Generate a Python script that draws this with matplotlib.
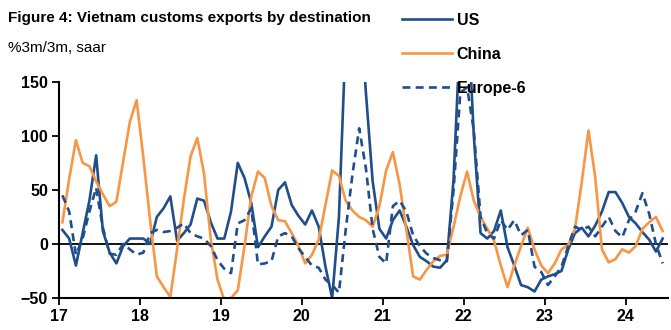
import matplotlib
matplotlib.use("Agg")
import matplotlib.pyplot as plt
import numpy as np

plt.rcParams['font.family'] = ['Liberation Sans', 'DejaVu Sans']

# monthly data, Jan 2017 - Jun 2024 (%3m/3m saar)
us = [13, 5, -20, 10, 40, 82, 12, -8, -18, -2, 5, 5,
      5, 0, 25, 33, 44, 3, 10, 18, 42, 40, 20, 5,
      5, 30, 75, 61, 38, -3, 7, 16, 50, 57, 36, 26,
      18, 31, 16, -21, -50, 25, 190, 260, 230, 140, 58, 14,
      5, 22, 31, 16, -1, -12, -16, -21, -22, -15, 60, 200,
      230, 100, 10, 5, 12, 31, -3, -20, -38, -40, -44, -33,
      -30, -28, -25, -5, 10, 15, 7, 17, 30, 48, 48, 38,
      25, 19, 11, 4, -7, 5]
china = [20, 60, 96, 75, 72, 58, 46, 35, 39, 76, 113, 133,
         80, 22, -30, -40, -49, -5, 41, 81, 98, 65, 4, -33,
         -52, -50, -43, -2, 44, 67, 61, 35, 22, 21, 10, -2,
         -18, -10, 4, 36, 68, 63, 40, 31, 25, 22, 16, 35,
         68, 85, 55, 13, -30, -33, -24, -16, -11, -10, 16, 44,
         67, 40, 25, 14, 3, -20, -40, -20, -2, 15, -5, -20,
         -27, -18, -5, -1, 14, 57, 105, 62, -5, -17, -14, -5,
         -8, -2, 14, 20, 25, 12]
europe6 = [45, 30, -10, 5, 30, 52, 15, -9, -10, 0, -5, -10,
           -8, 10, 13, 11, 12, 15, 19, 10, 7, 5, -2, -15,
           -23, -27, 19, 22, 33, -19, -18, -16, 7, 10, 7, -4,
           -12, -20, -22, -33, -38, -45, 13, 64, 107, 70, 14, -12,
           -18, 35, 40, 30, 8, -2, -9, -13, -15, -16, 50, 140,
           145, 105, 25, 10, 5, 22, 13, 22, 8, 13, -21, -26,
           -38, -30, -21, -2, 16, 13, 16, 7, 16, 25, 12, 6,
           22, 30, 47, 28, 0, -18]
years = [2017, 2018, 2019, 2020, 2021, 2022, 2023, 2024]
year_labels = ['17', '18', '19', '20', '21', '22', '23', '24']

t = 2017 + (np.arange(len(us)) + 0.5) / 12

navy = '#1f4e8a'
orange = '#f79646'

fig = plt.figure(figsize=(6.71, 3.30), dpi=100)
ax = fig.add_axes([0.088, 0.097, 0.907, 0.655])

l1, = ax.plot(t, us, color=navy, lw=1.9, label='US')
l2, = ax.plot(t, china, color=orange, lw=1.9, label='China')
l3, = ax.plot(t, europe6, color=navy, lw=1.9, ls=(0, (3, 2)), label='Europe-6')
ax.axhline(0, color='black', lw=1.3, zorder=0)

ax.set_xlim(2017, 2024.52)
ax.set_ylim(-50, 150)
ax.set_yticks([-50, 0, 50, 100, 150])
ax.set_xticks(years)
ax.set_xticklabels(year_labels)
for lab in ax.get_xticklabels() + ax.get_yticklabels():
    lab.set_fontweight('bold')
    lab.set_fontsize(11.5)
ax.tick_params(direction='out', length=5, width=1.3, pad=3)
ax.spines['top'].set_visible(False)
ax.spines['right'].set_visible(False)
ax.spines['left'].set_linewidth(1.5)
ax.spines['bottom'].set_linewidth(1.5)

fig.text(0.012, 0.945, 'Figure 4: Vietnam customs exports by destination',
         fontsize=11, fontweight='bold', va='center')
fig.text(0.012, 0.855, '%3m/3m, saar', fontsize=11, va='center')

fig.legend(handles=[l1, l2, l3], loc='upper left', bbox_to_anchor=(0.578, 1.005),
           frameon=False, handlelength=3.1, labelspacing=1.2, handletextpad=0.3,
           prop={'weight': 'bold', 'size': 11.5})

fig.savefig('out.png', dpi=100)
